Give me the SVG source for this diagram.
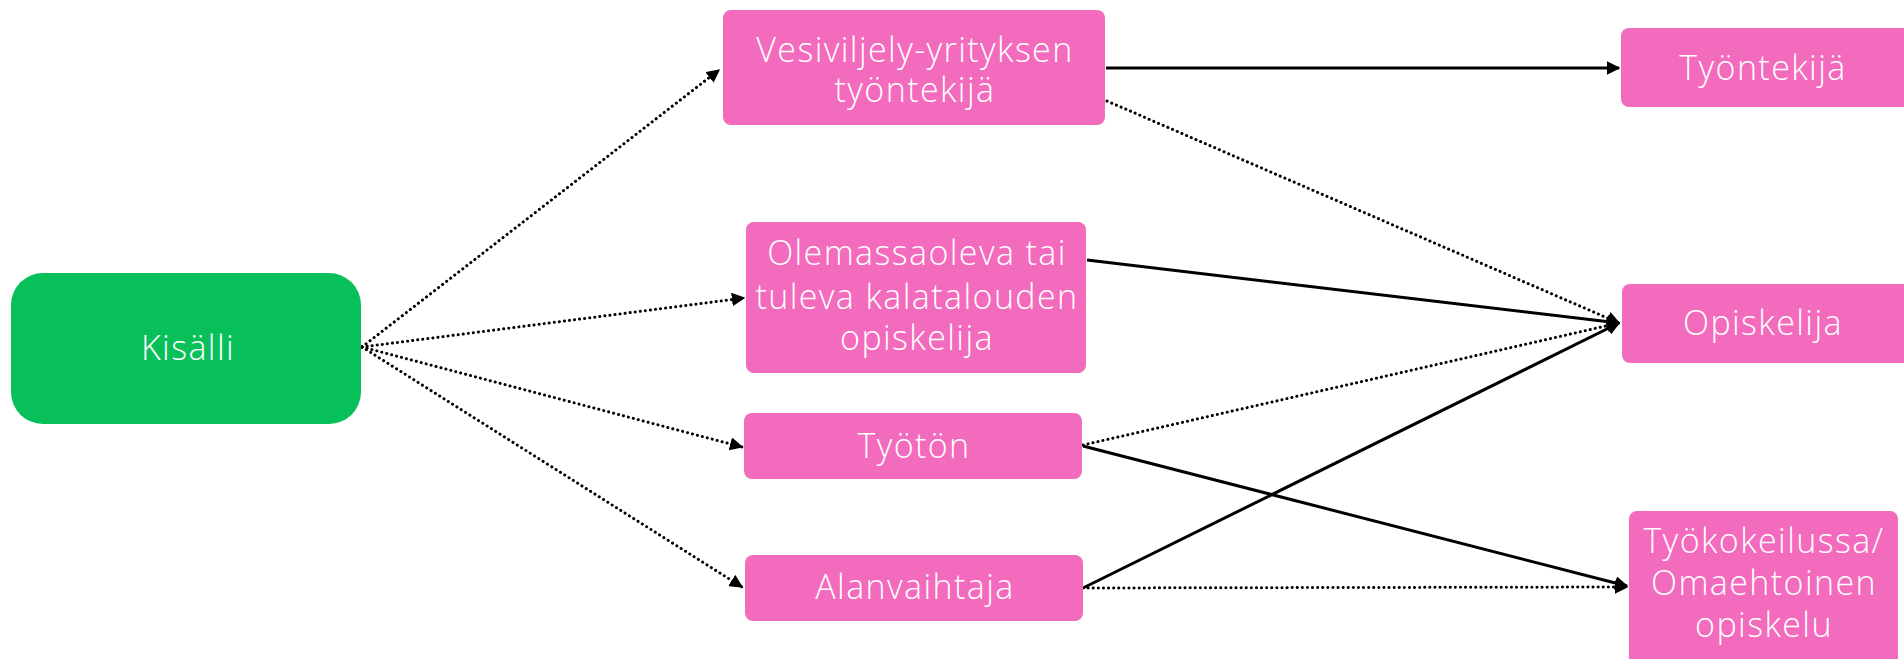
<svg xmlns="http://www.w3.org/2000/svg" width="1904" height="659" viewBox="0 0 1904 659">
<style>
.pink{fill:#F36BBD}
.green{fill:#08C05A}
.t{fill:#fff;font-family:"Open Sans","Noto Sans",sans-serif;font-weight:300;font-size:34px;letter-spacing:1.4px;text-anchor:middle}
.solid{stroke:#000;stroke-width:3;fill:none}
.dot{stroke:#000;stroke-width:3;fill:none;stroke-dasharray:0.1 5;stroke-linecap:round}
</style>
<defs>
<marker id="ah" viewBox="0 0 10 10" refX="9" refY="5" markerWidth="4.5" markerHeight="4.5" markerUnits="strokeWidth" orient="auto">
<path d="M0,0 L10,5 L0,10 z" fill="#000"/>
</marker>
</defs>
<rect width="1904" height="659" fill="#fff"/>
<g id="connectors">
<path class="dot" d="M362,347 L719,70" marker-end="url(#ah)"/>
<path class="dot" d="M362,347 L744,298" marker-end="url(#ah)"/>
<path class="dot" d="M362,347 L742,447" marker-end="url(#ah)"/>
<path class="dot" d="M362,347 L742,587" marker-end="url(#ah)"/>
<path class="solid" d="M1106,68 L1619,68" marker-end="url(#ah)"/>
<path class="dot" d="M1107,101 L1619,323" marker-end="url(#ah)"/>
<path class="solid" d="M1087,260 L1619,323" marker-end="url(#ah)"/>
<path class="dot" d="M1083,445 L1619,323" marker-end="url(#ah)"/>
<path class="solid" d="M1083,446 L1627,586" marker-end="url(#ah)"/>
<path class="solid" d="M1083,588 L1619,323" marker-end="url(#ah)"/>
<path class="dot" d="M1083,588 L1627,587" marker-end="url(#ah)"/>
</g>
<g id="kisalli"><rect class="green" x="11" y="273" width="350" height="151" rx="32"/><text class="t" x="188" y="360" font-size="40">Kisälli</text></g>
<g id="vesiviljely"><rect class="pink" x="723" y="10" width="382" height="115" rx="8"/><text class="t" x="915" y="62">Vesiviljely-yrityksen</text><text class="t" x="915" y="102">työntekijä</text></g>
<g id="olemassaoleva"><rect class="pink" x="746" y="222" width="340" height="151" rx="8"/><text class="t" x="917" y="265">Olemassaoleva tai</text><text class="t" x="917" y="309">tuleva kalatalouden</text><text class="t" x="917" y="350">opiskelija</text></g>
<g id="tyoton"><rect class="pink" x="744" y="413" width="338" height="66" rx="8"/><text class="t" x="914" y="458">Työtön</text></g>
<g id="alanvaihtaja"><rect class="pink" x="745" y="555" width="338" height="66" rx="8"/><text class="t" x="915" y="599">Alanvaihtaja</text></g>
<g id="tyontekija"><rect class="pink" x="1621" y="28" width="290" height="79" rx="8"/><text class="t" x="1763" y="80">Työntekijä</text></g>
<g id="opiskelija"><rect class="pink" x="1622" y="284" width="290" height="79" rx="8"/><text class="t" x="1763" y="335">Opiskelija</text></g>
<g id="tyokokeilussa"><rect class="pink" x="1629" y="511" width="269" height="160" rx="8"/><text class="t" x="1764" y="553">Työkokeilussa/</text><text class="t" x="1764" y="595">Omaehtoinen</text><text class="t" x="1764" y="637">opiskelu</text></g>
</svg>
